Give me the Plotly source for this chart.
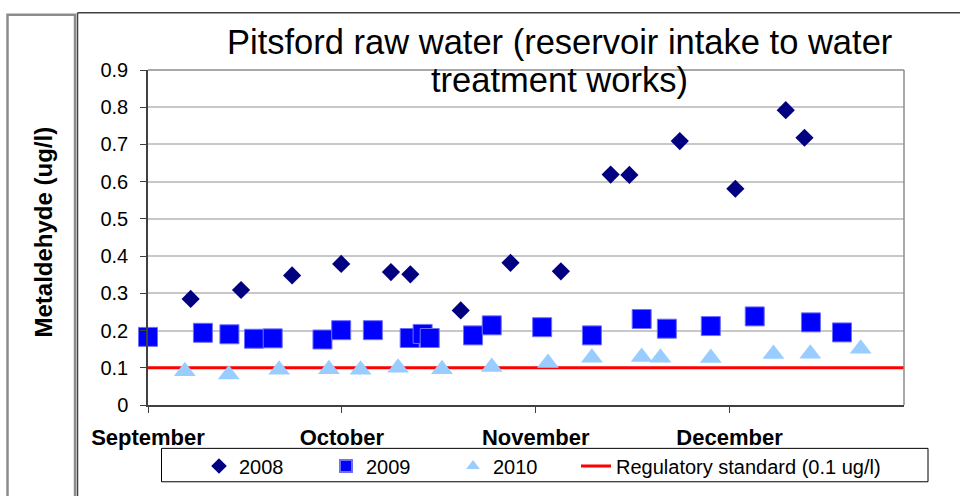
import plotly.graph_objects as go

# x = day offset from 1 September (month axis drawn with 30-day spacing)
x2008 = [6.6, 14.4, 22.3, 29.9, 37.6, 40.6, 48.4, 56.1, 63.9, 71.6, 74.5, 82.3, 90.9, 98.7, 101.6]
y2008 = [0.285, 0.309, 0.348, 0.379, 0.357, 0.351, 0.254, 0.382, 0.359, 0.619, 0.618, 0.709, 0.581, 0.792, 0.718]

x2009 = [0.0, 8.5, 12.6, 16.4, 19.3, 27.0, 29.9, 34.8, 40.5, 42.5, 43.6, 50.3, 53.2, 61.0, 68.7, 76.4, 80.3, 87.1, 93.9, 102.6, 107.4]
y2009 = [0.183, 0.194, 0.190, 0.178, 0.179, 0.176, 0.201, 0.201, 0.180, 0.191, 0.180, 0.187, 0.214, 0.209, 0.187, 0.231, 0.205, 0.212, 0.238, 0.222, 0.195]

x2010 = [5.7, 12.5, 20.3, 28.0, 32.9, 38.7, 45.5, 53.2, 61.9, 68.7, 76.4, 79.3, 87.1, 96.8, 102.5, 110.3]
y2010 = [0.091, 0.082, 0.095, 0.096, 0.095, 0.100, 0.096, 0.102, 0.113, 0.127, 0.129, 0.127, 0.126, 0.137, 0.138, 0.151]

std_x = [0, 117]
std_y = [0.1, 0.1]

month_ticks = [0, 30, 60, 90]
month_labels = ["September", "October", "November", "December"]
y_ticks = [0, 0.1, 0.2, 0.3, 0.4, 0.5, 0.6, 0.7, 0.8, 0.9]

FONT = "Liberation Sans, Arial, sans-serif"
L, R, T, B = 148, 904, 70, 406
W, H = 960, 496


def px(x):
    return (x - L) / (R - L)


def py(y):
    return (B - y) / (B - T)


fig = go.Figure()
fig.add_trace(go.Scatter(x=std_x, y=std_y, mode="lines", name="Regulatory standard (0.1 ug/l)",
                         line=dict(color="#FF0000", width=3), legend="legend2"))
fig.add_trace(go.Scatter(x=x2008, y=y2008, mode="markers", name="2008",
                         marker=dict(symbol="diamond", size=14, color="#000080"), cliponaxis=False))
fig.add_trace(go.Scatter(x=x2009, y=y2009, mode="markers", name="2009",
                         marker=dict(symbol="square", size=19, color="#0000FF",
                                     line=dict(color="#6f6fff", width=1)), cliponaxis=False))
fig.add_trace(go.Scatter(x=x2010, y=y2010, mode="markers", name="2010",
                         marker=dict(symbol="triangle-up", size=19, color="#99CCFF"), cliponaxis=False))

fig.update_layout(
    width=W, height=H,
    margin=dict(l=L, r=W - R, t=T, b=H - B),
    paper_bgcolor="white", plot_bgcolor="white",
    font=dict(family=FONT, color="black"),
    showlegend=True,
    legend=dict(orientation="h", x=px(199), y=py(466), xanchor="left", yanchor="middle",
                font=dict(size=20, family=FONT), bgcolor="rgba(0,0,0,0)", borderwidth=0,
                entrywidth=82, entrywidthmode="pixels", traceorder="normal", itemsizing="constant"),
    legend2=dict(orientation="h", x=px(576), y=py(466), xanchor="left", yanchor="middle",
                 font=dict(size=20, family=FONT), bgcolor="rgba(0,0,0,0)", borderwidth=0),
    xaxis=dict(range=[0, 117], tickmode="array", tickvals=month_ticks,
               ticktext=["<b>%s</b>" % m for m in month_labels],
               tickfont=dict(size=22, family=FONT), ticks="outside", ticklen=6, tickcolor="#404040",
               showline=True, linecolor="#404040", linewidth=1.5, showgrid=False, zeroline=False,
               ticklabelstandoff=6),
    yaxis=dict(range=[0, 0.9], tickmode="array", tickvals=y_ticks,
               ticktext=["0" if v == 0 else "%.1f" % v for v in y_ticks],
               tickfont=dict(size=20, family=FONT), ticks="outside", ticklen=6, tickcolor="#404040",
               showline=True, linecolor="#404040", linewidth=1.5, showgrid=True,
               gridcolor="#c8c8c8", gridwidth=1.5, zeroline=False, ticklabelstandoff=8),
)

shapes = [
    # plot area top / right border
    dict(type="line", xref="paper", yref="paper", x0=0, x1=1, y0=1, y1=1,
         line=dict(color="#8c8c8c", width=1.5)),
    dict(type="line", xref="paper", yref="paper", x0=1, x1=1, y0=0, y1=1,
         line=dict(color="#8c8c8c", width=1.5)),
    # outer frame of chart
    dict(type="line", xref="paper", yref="paper", x0=px(77.5), x1=px(962), y0=py(12.5), y1=py(12.5),
         line=dict(color="#404040", width=1.5)),
    dict(type="line", xref="paper", yref="paper", x0=px(77.5), x1=px(77.5), y0=py(12.5), y1=py(500),
         line=dict(color="#404040", width=1.5)),
    # left box (axis title)
    dict(type="rect", xref="paper", yref="paper", x0=px(7.5), x1=px(75), y0=py(14.5), y1=py(505),
         line=dict(color="#8c8c8c", width=2.5)),
    # legend box
    dict(type="rect", xref="paper", yref="paper", x0=px(161.5), x1=px(928), y0=py(449.5), y1=py(483),
         line=dict(color="black", width=1)),
]
fig.update_layout(shapes=shapes)

fig.add_annotation(text="Pitsford raw water (reservoir intake to water", xref="paper", yref="paper",
                   x=px(559), y=py(42), xanchor="center", yanchor="middle", showarrow=False,
                   font=dict(size=34.5, family=FONT))
fig.add_annotation(text="treatment works)", xref="paper", yref="paper",
                   x=px(559), y=py(80), xanchor="center", yanchor="middle", showarrow=False,
                   font=dict(size=34.5, family=FONT))
fig.add_annotation(text="<b>Metaldehyde (ug/l)</b>", xref="paper", yref="paper",
                   x=px(44), y=py(233), xanchor="center", yanchor="middle", showarrow=False,
                   textangle=-90, font=dict(size=24, family=FONT))

fig.write_html("out.html", config={"displayModeBar": False},
               post_script="document.body.style.margin='0px';")
